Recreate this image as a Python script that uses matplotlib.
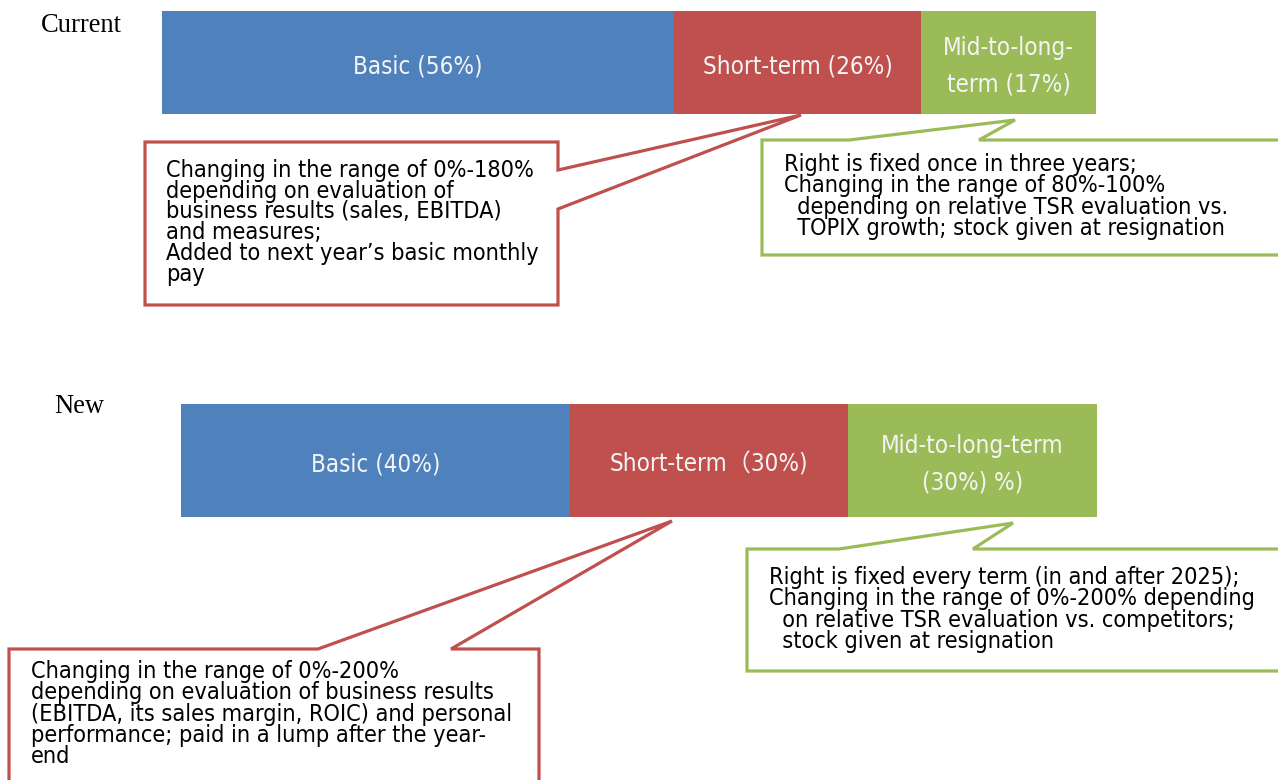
import matplotlib
matplotlib.use("Agg")
import matplotlib.pyplot as plt
from matplotlib.patches import Polygon
import numpy as np

# ---------------- data ----------------
plans = ["Current", "New"]
components = ["Basic", "Short-term", "Mid-to-long-term"]
current_share_pct = [56, 26, 17]
new_share_pct = [40, 30, 30]
# segment lengths as drawn in the picture (bar length units)
current_segment_len = [512, 247, 175]
new_segment_len = [389, 278, 249]
current_segment_labels = ["Basic (56%)", "Short-term (26%)", "Mid-to-long-\nterm (17%)"]
new_segment_labels = ["Basic (40%)", "Short-term（30%)", "Mid-to-long-term\n(30%) %)"]

current_short_note = ["Changing in the range of 0%-180%",
                      "depending on evaluation of",
                      "business results (sales, EBITDA)",
                      "and measures;",
                      "Added to next year’s basic monthly",
                      "pay"]
current_long_note = ["Right is fixed once in three years;",
                     "Changing in the range of 80%-100%",
                     "  depending on relative TSR evaluation vs.",
                     "  TOPIX growth; stock given at resignation"]
new_short_note = ["Changing in the range of 0%-200%",
                  "depending on evaluation of business results",
                  "(EBITDA, its sales margin, ROIC) and personal",
                  "performance; paid in a lump after the year-",
                  "end"]
new_long_note = ["Right is fixed every term (in and after 2025);",
                 "Changing in the range of 0%-200% depending",
                 "  on relative TSR evaluation vs. competitors;",
                 "  stock given at resignation"]

# ---------------- style ----------------
colors = ["#4F81BD", "#C0504D", "#9BBB59"]
label_color = "#F4F4F4"
W, H = 1278, 780

fig = plt.figure(figsize=(W / 100, H / 100), dpi=100)
ax = fig.add_axes([0, 0, 1, 1])
ax.set_xlim(0, W)
ax.set_ylim(H, 0)
ax.axis("off")
renderer = fig.canvas.get_renderer()

sans = dict(family=["DejaVu Sans", "Noto Sans CJK JP"], fontstretch="condensed")
serif = dict(family=["Liberation Serif", "DejaVu Serif"])


def fit_size(sample, target_px, props):
    t = ax.text(0, 0, sample, fontsize=20, **props)
    w = t.get_window_extent(renderer).width
    t.remove()
    return 20 * target_px / w


note_fs = fit_size("Changing in the range of 0%-180%", 369, sans)
label_fs = fit_size("Short-term (26%)", 190, sans)
title_fs = fit_size("Current", 81, serif)
label_em = label_fs * 100 / 72

# ---------------- bars ----------------
bars = [
    dict(start=162, top=11, bottom=114, lens=current_segment_len, labels=current_segment_labels),
    dict(start=181, top=404, bottom=517, lens=new_segment_len, labels=new_segment_labels),
]
for b in bars:
    lens = np.array(b["lens"], dtype=float)
    lefts = b["start"] + np.concatenate([[0], np.cumsum(lens)[:-1]])
    yc = (b["top"] + b["bottom"]) / 2
    h = b["bottom"] - b["top"]
    ax.barh([yc] * len(lens), lens, left=lefts, height=h, color=colors, edgecolor="none", zorder=2)
    base = yc + 0.45 * label_em
    for left, ln, lab in zip(lefts, lens, b["labels"]):
        lines = lab.split("\n")
        n = len(lines)
        for i, line in enumerate(lines):
            yb = base + (i - (n - 1) / 2) * 37
            ax.text(left + ln / 2, yb, line, ha="center", va="baseline",
                    fontsize=label_fs, color=label_color, zorder=4, **sans)

# titles
ax.text(41, 32, plans[0], fontsize=title_fs, ha="left", va="baseline", color="black", **serif)
ax.text(54, 413, plans[1], fontsize=title_fs, ha="left", va="baseline", color="black", **serif)

# ---------------- callouts ----------------
callouts = [
    # (vertices, colour, text lines, text x, first baseline, line step)
    ([(145, 142), (558, 142), (558, 170), (801, 115), (558, 209), (558, 305), (145, 305)],
     colors[1], current_short_note, 166, 177, 20.7),
    ([(762, 140), (849, 140), (1015, 120), (979, 140), (1290, 140), (1290, 255), (762, 255)],
     colors[2], current_long_note, 784, 171, 21.3),
    ([(9, 649), (318, 649), (672, 521), (451, 649), (539, 649), (539, 795), (9, 795)],
     colors[1], new_short_note, 31, 678, 21.25),
    ([(747, 549), (839, 549), (1013, 523), (973, 549), (1290, 549), (1290, 671), (747, 671)],
     colors[2], new_long_note, 769, 584, 21.3),
]
for verts, col, lines, tx, yb0, step in callouts:
    ax.add_patch(Polygon(verts, closed=True, facecolor="white", edgecolor=col,
                         linewidth=2.3, joinstyle="miter", zorder=3))
    for i, line in enumerate(lines):
        ax.text(tx, yb0 + i * step, line, ha="left", va="baseline",
                fontsize=note_fs, color="black", zorder=5, **sans)

fig.savefig("out.png", dpi=100)
